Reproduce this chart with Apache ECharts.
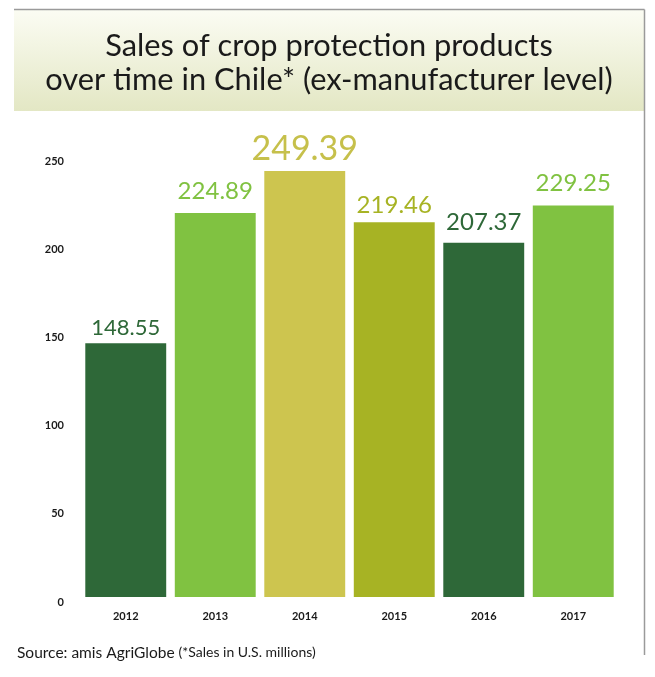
<!DOCTYPE html>
<html>
<head>
<meta charset="utf-8">
<script src="https://cdn.jsdelivr.net/npm/echarts@6/dist/echarts.min.js"></script>
<style>html,body{margin:0;padding:0;background:#fff;}#c{width:655px;height:677px;}</style>
</head>
<body>
<div id="c"></div>
<script>
const categories = ['2012', '2013', '2014', '2015', '2016', '2017'];
const salesValues = [148.55, 224.89, 249.39, 219.46, 207.37, 229.25];
const valueLabels = ['148.55', '224.89', '249.39', '219.46', '207.37', '229.25'];
const yTickValues = [0, 50, 100, 150, 200, 250];

const barColors = ['#2e6838', '#80c241', '#cdc54f', '#a7b324', '#2e6838', '#80c241'];
const labelColors = ['#2e6838', '#80c241', '#c6c04b', '#a7b324', '#2e6838', '#80c241'];
const labelSizes = [22, 24, 34, 24, 24, 24];
const labelDist = [4, 10, 5, 5, 9, 10];

const chart = echarts.init(document.getElementById('c'), null, {renderer: 'canvas'});
const FONT = 'Lato, "Open Sans", sans-serif';

const option = {
  animation: false,
  backgroundColor: '#ffffff',
  graphic: [
    {type: 'rect', shape: {x: 14, y: 10, width: 630, height: 101}, silent: true, z: -1,
      style: {fill: {type: 'linear', x: 0, y: 0, x2: 0, y2: 1, colorStops: [
        {offset: 0, color: '#fbfcf3'}, {offset: 1, color: '#e3e7c4'}]}}},
    {type: 'line', shape: {x1: 14, y1: 9.5, x2: 644.5, y2: 9.5}, style: {stroke: '#9a9a9a', lineWidth: 1.5}},
    {type: 'line', shape: {x1: 644.5, y1: 9.5, x2: 644.5, y2: 655}, style: {stroke: '#9a9a9a', lineWidth: 1.5}},
    {type: 'text', x: 329, y: 29, style: {
      text: 'Sales of crop protection products\nover time in Chile* (ex-manufacturer level)',
      fill: '#1a1a1a', font: '30.8px ' + FONT, align: 'center', textAlign: 'center', lineHeight: 34}},
    {type: 'text', x: 17, y: 645, style: {
      text: '{a|Source: amis AgriGlobe }{b|(*Sales in U.S. millions)}',
      rich: {
        a: {fontSize: 15.5, fontFamily: FONT, fill: '#1a1a1a', verticalAlign: 'bottom'},
        b: {fontSize: 14, fontFamily: FONT, fill: '#1a1a1a', verticalAlign: 'top'}
      }}}
  ],
  grid: [
    {left: 81, right: 37, top: 170, bottom: 80},
    {left: 72, right: 37, top: 161, bottom: 75}
  ],
  xAxis: [
    {type: 'category', gridIndex: 0, data: categories,
      axisLine: {show: false}, axisTick: {show: false},
      axisLabel: {color: '#1a1a1a', fontSize: 11, fontWeight: 'bold', fontFamily: FONT, margin: 14}},
    {type: 'category', gridIndex: 1, data: categories, show: false}
  ],
  yAxis: [
    {type: 'value', gridIndex: 0, min: 0, max: 250, interval: 50, show: false, splitLine: {show: false}},
    {type: 'value', gridIndex: 1, min: yTickValues[0], max: yTickValues[yTickValues.length - 1], interval: 50,
      axisLine: {show: false}, axisTick: {show: false}, splitLine: {show: false},
      axisLabel: {color: '#1a1a1a', fontSize: 11, fontWeight: 'bold', fontFamily: FONT, margin: 8}}
  ],
  series: [{
    type: 'bar', xAxisIndex: 0, yAxisIndex: 0,
    barCategoryGap: '9.6%',
    data: salesValues.map((v, i) => ({
      value: v,
      itemStyle: {color: barColors[i]},
      label: {show: true, position: 'top', distance: labelDist[i], formatter: valueLabels[i],
        color: labelColors[i], fontSize: labelSizes[i], fontFamily: FONT}
    }))
  }]
};
chart.setOption(option);
</script>
</body>
</html>
